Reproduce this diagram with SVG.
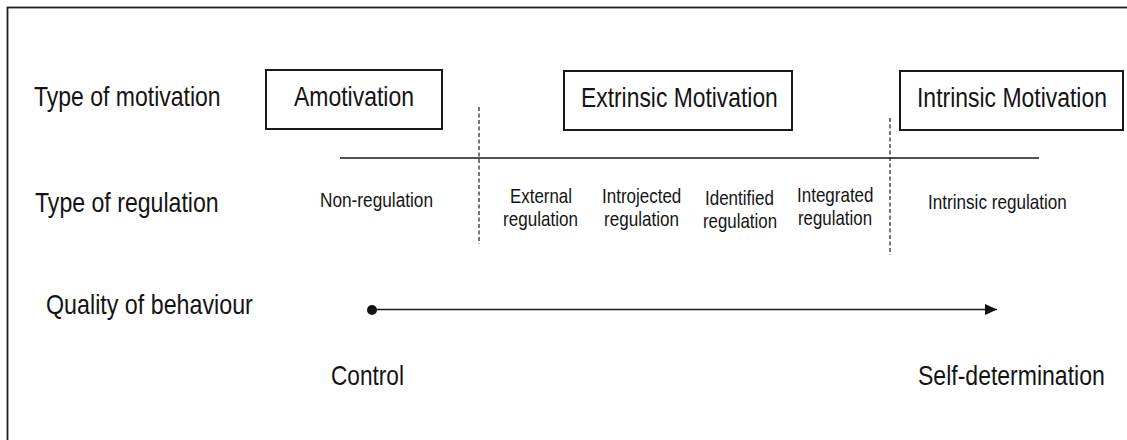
<svg xmlns="http://www.w3.org/2000/svg" width="1127" height="440" viewBox="0 0 1127 440">
  <defs>
    <style>
      .frame { fill: none; stroke: #1e1e1e; stroke-width: 1.8; }
      .box { fill: #ffffff; stroke: #1a1a1a; stroke-width: 2; }
      .big { font-family: "Liberation Sans", Arial, sans-serif; font-size: 27px; fill: #141414; }
      .small { font-family: "Liberation Sans", Arial, sans-serif; font-size: 20px; fill: #141414; }
      .rule { stroke: #1a1a1a; stroke-width: 1.4; fill: none; }
      .dash { stroke: #1a1a1a; stroke-width: 1.2; stroke-dasharray: 4 2.5; fill: none; }
      .conn { stroke: #1a1a1a; stroke-width: 1.6; fill: none; }
    </style>
    <marker id="arrowhead" markerUnits="userSpaceOnUse" markerWidth="13" markerHeight="12" refX="12" refY="6" orient="auto">
      <path d="M0,0.5 L12,6 L0,11.5 Z" fill="#111111"/>
    </marker>
  </defs>

  <rect x="0" y="0" width="1127" height="440" fill="#ffffff"/>
  <rect class="frame" x="7.5" y="7.5" width="1130" height="450"/>

  <!-- Row labels -->
  <g id="label-type-motivation">
    <text class="big" transform="translate(34,106) scale(0.852,1)">Type of motivation</text>
  </g>
  <g id="label-type-regulation">
    <text class="big" transform="translate(35,212) scale(0.856,1)">Type of regulation</text>
  </g>
  <g id="label-quality">
    <text class="big" transform="translate(46,314) scale(0.862,1)">Quality of behaviour</text>
  </g>

  <!-- Motivation boxes -->
  <g id="node-amotivation">
    <rect class="box" x="266" y="70" width="176" height="59"/>
    <text class="big" transform="translate(294,106) scale(0.851,1)">Amotivation</text>
  </g>
  <g id="node-extrinsic">
    <rect class="box" x="564" y="71" width="228" height="59"/>
    <text class="big" transform="translate(581,107) scale(0.847,1)">Extrinsic Motivation</text>
  </g>
  <g id="node-intrinsic">
    <rect class="box" x="900" y="71" width="223" height="59"/>
    <text class="big" transform="translate(917,107) scale(0.85,1)">Intrinsic Motivation</text>
  </g>

  <!-- Dividers -->
  <g id="dividers">
    <line class="rule" x1="340" y1="158" x2="1039" y2="158"/>
    <line class="dash" x1="479" y1="107" x2="479" y2="244"/>
    <line class="dash" x1="890" y1="118" x2="890" y2="255"/>
  </g>

  <!-- Regulation types -->
  <g id="node-non-regulation">
    <text class="small" transform="translate(320,207) scale(0.862,1)">Non-regulation</text>
  </g>
  <g id="node-external">
    <text class="small" transform="translate(510,203) scale(0.845,1)">External</text>
    <text class="small" transform="translate(503,226) scale(0.854,1)">regulation</text>
  </g>
  <g id="node-introjected">
    <text class="small" transform="translate(602,203) scale(0.85,1)">Introjected</text>
    <text class="small" transform="translate(604,226) scale(0.854,1)">regulation</text>
  </g>
  <g id="node-identified">
    <text class="small" transform="translate(705,205) scale(0.85,1)">Identified</text>
    <text class="small" transform="translate(703,228) scale(0.843,1)">regulation</text>
  </g>
  <g id="node-integrated">
    <text class="small" transform="translate(797,202) scale(0.85,1)">Integrated</text>
    <text class="small" transform="translate(798,225) scale(0.843,1)">regulation</text>
  </g>
  <g id="node-intrinsic-regulation">
    <text class="small" transform="translate(928,209) scale(0.856,1)">Intrinsic regulation</text>
  </g>

  <!-- Endpoints -->
  <g id="node-control">
    <circle cx="372" cy="310" r="5" fill="#111111"/>
    <text class="big" transform="translate(331,385) scale(0.839,1)">Control</text>
  </g>
  <g id="node-self-determination">
    <text class="big" transform="translate(918,385) scale(0.853,1)">Self-determination</text>
  </g>

  <!-- Connectors -->
  <g id="connectors">
    <line class="conn" x1="372" y1="309.5" x2="997" y2="309.5" marker-end="url(#arrowhead)"/>
  </g>
</svg>
